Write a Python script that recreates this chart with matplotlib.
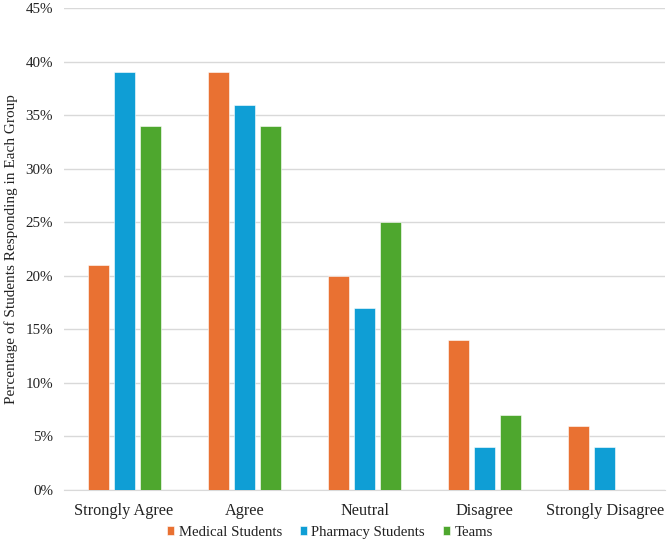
import matplotlib.pyplot as plt
import numpy as np
from matplotlib.ticker import FuncFormatter

categories = ["Strongly Agree", "Agree", "Neutral", "Disagree", "Strongly Disagree"]
medical = [21, 39, 20, 14, 6]
pharmacy = [39, 36, 17, 4, 4]
teams = [34, 34, 25, 7, 0]
series_names = ["Medical Students", "Pharmacy Students", "Teams"]
colors = ["#E97132", "#0F9ED5", "#4EA72E"]

plt.rcParams['font.family'] = 'serif'
plt.rcParams['font.serif'] = ['Liberation Serif', 'DejaVu Serif']

fig = plt.figure(figsize=(6.69, 5.43), dpi=100)
ax = fig.add_axes([0.0957, 0.0976, 0.8983, 0.8874])

x = np.arange(len(categories))
w = 0.175
step = 0.217
for i, (vals, name, c) in enumerate(zip([medical, pharmacy, teams], series_names, colors)):
    ax.bar(x + (i - 1) * step, vals, width=w, color=c, label=name,
           edgecolor="white", linewidth=0.4, zorder=3)

ax.set_xlim(-0.5, len(categories) - 0.5)
ax.set_ylim(0, 45)
ax.set_yticks(np.arange(0, 46, 5))
ax.yaxis.set_major_formatter(FuncFormatter(lambda v, p: f"{int(v)}%"))
ax.set_xticks(x)
ax.set_xticklabels(categories, fontsize=11.7, color="#222222")
ax.tick_params(axis='y', labelsize=10.8, length=0, pad=8, labelcolor="#222222")
ax.tick_params(axis='x', length=0, pad=9)
ax.grid(axis='y', color="#d9d9d9", linewidth=1, zorder=0)
for s in ["top", "right", "left"]:
    ax.spines[s].set_visible(False)
ax.spines["bottom"].set_color("#d9d9d9")
ax.set_ylabel("Percentage of Students Responding in Each Group", fontsize=11,
              color="#222222")
ax.yaxis.set_label_coords(-0.076, 0.5)

fig.legend(loc="center", bbox_to_anchor=(0.493, 0.02), ncol=3, frameon=False,
           fontsize=10.6, handlelength=0.5, handleheight=0.5, handletextpad=0.3,
           columnspacing=1.2, labelcolor="#222222")

fig.savefig("out.png", dpi=100)
